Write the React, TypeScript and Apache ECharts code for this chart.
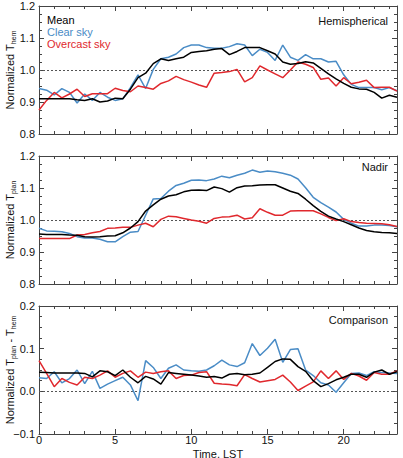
import React, { useEffect, useRef } from "react";
import * as echarts from "echarts";

const hours = [
  0, 0.5, 1, 1.5, 2, 2.5, 3, 3.5, 4, 4.5, 5, 5.5, 6, 6.5, 7, 7.5, 8, 8.5, 9, 9.5, 10, 10.5, 11, 11.5,
  12, 12.5, 13, 13.5, 14, 14.5, 15, 15.5, 16, 16.5, 17, 17.5, 18, 18.5, 19, 19.5, 20, 20.5, 21, 21.5,
  22, 22.5, 23, 23.5,
];

// Hemispherical
const hemMean = [
  0.91, 0.91, 0.91, 0.91, 0.91, 0.907, 0.905, 0.91, 0.9, 0.903, 0.912, 0.91, 0.94, 0.976, 0.99, 1.02,
  1.035, 1.03, 1.035, 1.04, 1.055, 1.058, 1.06, 1.065, 1.067, 1.048, 1.058, 1.07, 1.07, 1.07, 1.06, 1.05,
  1.025, 1.018, 1.02, 1.026, 1.022, 1.005, 0.988, 0.972, 0.958, 0.946, 0.941, 0.94, 0.93, 0.912, 0.921, 0.915,
];
const hemClear = [
  0.942, 0.937, 0.922, 0.942, 0.93, 0.897, 0.925, 0.905, 0.93, 0.915, 0.905, 0.91, 0.945, 0.985, 0.942, 1.002,
  1.035, 1.04, 1.05, 1.07, 1.078, 1.078, 1.07, 1.068, 1.068, 1.073, 1.082, 1.078, 1.045, 1.065, 1.055, 1.03,
  1.078, 1.04, 1.03, 1.048, 1.035, 1.035, 1.025, 1.027, 0.985, 0.955, 0.945, 0.945, 0.945, 0.938, 0.945, 0.935,
];
const hemOvercast = [
  0.875, 0.905, 0.93, 0.913, 0.925, 0.94, 0.917, 0.926, 0.926, 0.926, 0.943, 0.936, 0.932, 0.95, 0.945, 0.94,
  0.958, 0.966, 0.98, 0.97, 0.962, 0.953, 0.946, 0.99, 0.992, 0.995, 1.002, 0.963, 0.976, 1.013, 1.0, 0.988,
  0.976, 1.0, 1.025, 1.018, 1.008, 0.971, 0.975, 0.95, 0.976, 0.957, 0.962, 0.968, 0.945, 0.946, 0.946, 0.934,
];

// Nadir
const nadMean = [
  0.956, 0.955, 0.955, 0.955, 0.953, 0.952, 0.948, 0.947, 0.948, 0.95, 0.951, 0.96, 0.975, 0.995, 1.028, 1.047,
  1.065, 1.075, 1.079, 1.088, 1.093, 1.094, 1.092, 1.103, 1.098, 1.087, 1.101, 1.106, 1.107, 1.109, 1.11, 1.11,
  1.1, 1.09, 1.083, 1.065, 1.045, 1.027, 1.012, 1.003, 0.995, 0.985, 0.975, 0.967, 0.963, 0.961, 0.96, 0.958,
];
const nadClear = [
  0.974, 0.966, 0.965, 0.963, 0.958, 0.948, 0.944, 0.944, 0.94, 0.932, 0.932, 0.948, 0.962, 0.964, 1.015, 1.066,
  1.067, 1.09, 1.108, 1.115, 1.124, 1.125, 1.123, 1.128, 1.137, 1.132, 1.14, 1.146, 1.156, 1.149, 1.153, 1.151,
  1.146, 1.14, 1.128, 1.101, 1.071, 1.054, 1.04, 1.025, 1.002, 0.99, 0.981, 0.981, 0.984, 0.984, 0.983, 0.979,
];
const nadOvercast = [
  0.942, 0.942, 0.942, 0.942, 0.942, 0.953, 0.955, 0.96, 0.964, 0.974, 0.975, 0.977, 0.977, 0.984, 0.99, 0.979,
  1.002, 1.012, 1.01, 1.005, 1.0, 0.996, 0.99, 1.005, 1.009, 1.01, 1.015, 1.003, 1.007, 1.035, 1.024, 1.015,
  1.015, 1.028, 1.029, 1.029, 1.029, 1.019, 1.008, 0.998, 1.004, 0.995, 0.992, 0.99, 0.989, 0.988, 0.985, 0.98,
];

// Comparison
const cmpMean = [
  0.045, 0.044, 0.043, 0.043, 0.043, 0.043, 0.042, 0.034, 0.048, 0.046, 0.037, 0.05, 0.033, 0.02, 0.035, 0.029,
  0.017, 0.044, 0.042, 0.04, 0.038, 0.036, 0.033, 0.035, 0.031, 0.04, 0.042, 0.039, 0.04, 0.043, 0.056, 0.07,
  0.076, 0.075, 0.058, 0.047, 0.025, 0.011, 0.018, 0.027, 0.033, 0.04, 0.04, 0.033, 0.045, 0.05, 0.04, 0.046,
];
const cmpClear = [
  0.032, 0.03, 0.046, 0.02, 0.03, 0.05, 0.018, 0.047, 0.007, 0.017, 0.025, 0.033, 0.015, -0.022, 0.072, 0.056,
  0.03, 0.054, 0.062, 0.05, 0.048, 0.047, 0.05, 0.06, 0.073, 0.062, 0.058, 0.067, 0.112, 0.084, 0.101, 0.122,
  0.068, 0.098, 0.1, 0.05, 0.037, 0.02, 0.015, -0.002, 0.02, 0.042, 0.043, 0.037, 0.046, 0.044, 0.043, 0.042,
];
const cmpOvercast = [
  0.072, 0.042, 0.011, 0.03, 0.021, 0.015, 0.033, 0.03, 0.038, 0.048, 0.033, 0.042, 0.048, 0.033, 0.045, 0.042,
  0.046, 0.048, 0.03, 0.037, 0.038, 0.044, 0.046, 0.019, 0.017, 0.016, 0.013, 0.039, 0.03, 0.022, 0.025, 0.028,
  0.038, 0.022, 0.002, 0.012, 0.022, 0.048, 0.03, 0.048, 0.028, 0.042, 0.036, 0.026, 0.044, 0.04, 0.04, 0.048,
];

const seriesNames = ["Clear sky", "Overcast sky", "Mean"];
const panelTitles = ["Hemispherical", "Nadir", "Comparison"];
const legendLabels = ["Mean", "Clear sky", "Overcast sky"];

const FONT = '"Liberation Sans", Arial, Helvetica, sans-serif';
const BLUE = "#4a8cc6";
const RED = "#e0282d";
const BLACK = "#000000";
const AX = "#444444";

const panels = [
  { top: 6, min: 0.8, max: 1.2, ref: 1, name: "Normalized T{s|hem}", data: [hemClear, hemOvercast, hemMean] },
  { top: 156, min: 0.8, max: 1.2, ref: 1, name: "Normalized T{s|plan}", data: [nadClear, nadOvercast, nadMean] },
  { top: 306, min: -0.1, max: 0.2, ref: 0, name: "Normalized T{s|plan} - T{s|hem}", data: [cmpClear, cmpOvercast, cmpMean] },
];
const colors = [BLUE, RED, BLACK];

export default function App() {
  const ref = useRef<HTMLDivElement>(null);
  useEffect(() => {
    if (!ref.current) return;
    const chart = echarts.init(ref.current, undefined, { renderer: "svg" });
    const grid: any[] = [];
    const xAxis: any[] = [];
    const yAxis: any[] = [];
    const series: any[] = [];
    const tickLine = { color: AX, width: 1 };
    panels.forEach((p, i) => {
      grid.push({ left: 39, right: 6, top: p.top, height: 128, containLabel: false, outerBoundsMode: "none" });
      (["bottom", "top"] as const).forEach((pos) => {
        xAxis.push({
          type: "value",
          gridIndex: i,
          position: pos,
          min: 0,
          max: 23.5,
          interval: 1,
          axisLine: { show: true, onZero: false, lineStyle: tickLine },
          axisTick: { show: true, inside: true, length: 3, lineStyle: tickLine },
          axisLabel: {
            show: pos === "bottom" && i === 2,
            margin: 0,
            fontSize: 11,
            color: "#111",
            fontFamily: FONT,
            formatter: (v: number) => (v % 5 === 0 ? String(v) : ""),
          },
          splitLine: { show: false },
          name: pos === "bottom" && i === 2 ? "Time, LST" : "",
          nameLocation: "middle",
          nameGap: 14,
          nameMoveOverlap: false,
          nameTextStyle: { fontSize: 11, color: "#111", fontFamily: FONT },
        });
        xAxis.push({
          type: "value",
          gridIndex: i,
          position: pos,
          min: 0,
          max: 23.5,
          interval: 5,
          axisLine: { show: false, onZero: false },
          axisTick: { show: true, inside: true, length: 5, lineStyle: tickLine },
          axisLabel: { show: false },
          splitLine: { show: false },
        });
      });
      (["left", "right"] as const).forEach((pos) => {
        yAxis.push({
          type: "value",
          gridIndex: i,
          position: pos,
          min: p.min,
          max: p.max,
          interval: 0.1,
          axisLine: { show: true, onZero: false, lineStyle: tickLine },
          axisTick: { show: true, inside: true, length: 5, lineStyle: tickLine },
          minorTick: { show: true, splitNumber: 4, length: 3, lineStyle: tickLine },
          axisLabel: {
            show: pos === "left",
            margin: 4,
            fontSize: 11,
            color: "#111",
            fontFamily: FONT,
            formatter: (v: number) => v.toFixed(1).replace("-", "\u2212"),
          },
          splitLine: { show: false },
          name: pos === "left" ? p.name : "",
          nameLocation: "middle",
          nameGap: 22,
          nameMoveOverlap: false,
          nameTextStyle: {
            fontSize: 11,
            color: "#111",
            fontFamily: FONT,
            lineHeight: 15,
            rich: {
              s: { fontSize: 7, lineHeight: 7, verticalAlign: "bottom", fontFamily: FONT, color: "#111" },
            },
          },
        });
      });
      p.data.forEach((arr, k) => {
        const s: any = {
          type: "line",
          name: seriesNames[k],
          xAxisIndex: i * 4,
          yAxisIndex: i * 2,
          data: hours.map((h, j) => [h, arr[j]]),
          showSymbol: false,
          symbol: "none",
          lineStyle: { color: colors[k], width: 1.5 },
          itemStyle: { color: colors[k] },
          z: 3 + k,
        };
        if (k === 0) {
          s.markLine = {
            silent: true,
            symbol: ["none", "none"],
            label: { show: false },
            lineStyle: { color: "#555", width: 1, type: [2, 2] },
            data: [{ yAxis: p.ref }],
            z: 2,
          };
        }
        series.push(s);
      });
    });

    const graphic: any[] = [];
    const legendColors = [BLACK, BLUE, RED];
    legendLabels.forEach((t, k) => {
      graphic.push({
        type: "text",
        left: 47,
        top: 14 + k * 12,
        style: { text: t, fill: legendColors[k], fontSize: 11, fontFamily: FONT },
      });
    });
    const titleY = [15, 161, 314];
    panelTitles.forEach((t, k) => {
      graphic.push({
        type: "text",
        right: 15,
        top: titleY[k],
        style: { text: t, fill: "#111", fontSize: 11, fontFamily: FONT },
      });
    });

    chart.setOption({
      animation: false,
      backgroundColor: "#fff",
      textStyle: { fontFamily: FONT },
      grid,
      xAxis,
      yAxis,
      series,
      graphic,
    });
    return () => chart.dispose();
  }, []);
  return (
    <div
      ref={ref}
      style={{ position: "fixed", left: 0, top: 0, width: 403, height: 458, background: "#fff" }}
    />
  );
}
